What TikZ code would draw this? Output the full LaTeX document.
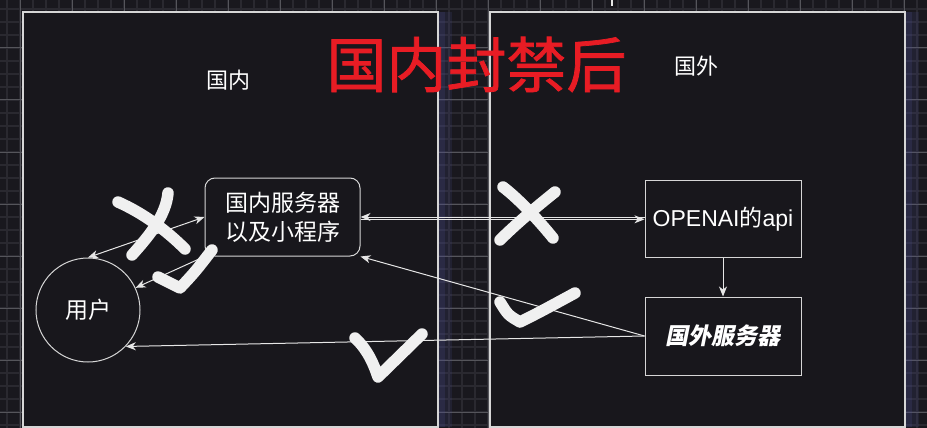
\documentclass[tikz,border=0pt]{standalone}
\usepackage{fontspec}
\setmainfont{Liberation Sans}
\newfontfamily\cjk{Noto Sans CJK SC}
\newfontfamily\cjktitle{Noto Sans CJK SC}[FakeBold=1.2]
\newfontfamily\cjkbi{Noto Sans CJK SC}[FakeSlant=0.2]
\usetikzlibrary{arrows.meta}
\definecolor{bgc}{HTML}{19181E}
\definecolor{minorc}{HTML}{2A2930}
\definecolor{majorc}{HTML}{55555B}
\definecolor{boxfill}{HTML}{18171C}
\definecolor{boxline}{HTML}{D6D6D6}
\definecolor{glowc}{HTML}{4A4A8C}
\definecolor{linec}{HTML}{E6E6E6}
\definecolor{markc}{HTML}{F0F0F0}
\definecolor{titlered}{HTML}{E81C24}
\tikzset{
  minorline/.style={draw=minorc, line width=1.5pt},
  majorline/.style={draw=majorc, line width=1pt},
  region/.style={draw=boxline, fill=boxfill, line width=1.3pt, inner sep=0pt},
  shape box/.style={draw=boxline, fill=boxfill, line width=1pt, inner sep=0pt, text=white,
    font=\fontsize{23}{29}\selectfont, align=center},
  labeltext/.style={text=white, inner sep=0pt, font=\cjk\fontsize{22}{26}\selectfont},
  arrtip/.tip={Stealth[length=10pt,width=8pt,inset=3pt]},
  arr/.style={draw=linec, line width=1pt, -arrtip},
  darr/.style={draw=linec, line width=1pt, arrtip-arrtip},
  handmark/.style={draw=markc, line width=11.5pt, line cap=round, line join=round},
}
\begin{document}
\begin{tikzpicture}[x=1pt,y=-1pt]
\useasboundingbox (0,0) rectangle (927,428);
\fill[bgc] (0,0) rectangle (927,428);
% grid
\foreach \i in {0,...,71} {\draw[minorline] ({7+13*\i},0) -- ({7+13*\i},428);}
\foreach \i in {0,...,33} {\draw[minorline] (0,{9+13*\i}) -- (927,{9+13*\i});}
\foreach \i in {0,...,17} {\draw[majorline] ({20+52*\i},0) -- ({20+52*\i},428);}
\foreach \i in {0,...,7} {\draw[majorline] (0,{48+52*\i}) -- (927,{48+52*\i});}
% glows
\fill[glowc, opacity=0.18] (438,12) rectangle (452,427);
\fill[glowc, opacity=0.22] (438,12) rectangle (445,427);
\fill[glowc, opacity=0.18] (905,12) rectangle (919,427);
\fill[glowc, opacity=0.22] (905,12) rectangle (912,427);
% tick at top
\draw[draw=linec, line width=1.5pt] (612,0) -- (612,6);
% regions
\node[region, minimum width=415pt, minimum height=415pt] (cn) at (230.5,219.5) {};
\node[region, minimum width=415pt, minimum height=415pt] (abroad) at (697.5,219.5) {};
\node[labeltext] (cnlabel) at (228,80) {国内};
\node[labeltext] (abroadlabel) at (696,66) {国外};
\node[text=titlered, inner sep=0pt, font=\cjktitle\fontsize{60}{70}\selectfont] (title) at (476.5,64.5) {国内封禁后};
% nodes
\node[shape box, rounded corners=10pt, minimum width=155pt, minimum height=78pt] (server) at (282.5,217)
  {\cjk 国内服务器\\\cjk 以及小程序};
\node[shape box, circle, minimum size=104pt] (user) at (88,310) {\cjk 用户};
\node[shape box, minimum width=156pt, minimum height=77pt] (api) at (723,219.3)
  {OPENAI{\cjk 的}api};
\node[shape box, minimum width=156pt, minimum height=78pt] (foreign) at (723,336)
  {\cjkbi\bfseries 国外服务器};
% connectors
\draw[darr] (user.north) -- (server.west);
\draw[arr] (server.south west) -- (user.25);
\draw[arr] (api.west |- server.east) -- (server.east);
\draw[arr] (server.east |- api.west) -- (api.west);
\draw[arr] (api.south) -- (foreign.north);
\draw[arr] (foreign.west) -- (server.south east);
\draw[arr] (foreign.west) -- (user.-44);
% hand-drawn marks
\draw[handmark] (118,202) .. controls (145,214) and (168,232) .. (185,249);
\draw[handmark] (168,193) .. controls (166,215) and (150,235) .. (132,255);
\draw[handmark] (158,277) .. controls (168,282) .. (180,288) .. controls (195,272) .. (212,250);
\draw[handmark] (503,187) .. controls (520,200) and (540,222) .. (553,238);
\draw[handmark] (555,192) .. controls (535,208) and (515,225) .. (500,240);
\draw[handmark] (500,302) .. controls (508,315) .. (520,322) .. controls (540,312) .. (575,293);
\draw[handmark] (355,338) .. controls (368,350) and (374,365) .. (378,377) -- (422,334);
\end{tikzpicture}
\end{document}
